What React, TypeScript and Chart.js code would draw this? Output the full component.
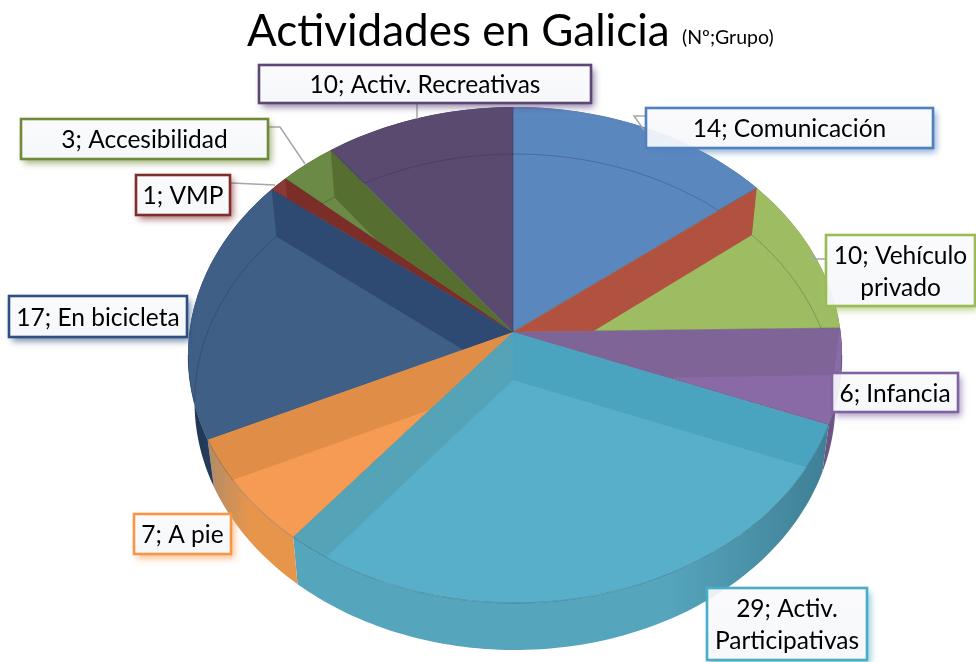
import React, { useEffect, useRef } from "react";
import { Chart, registerables } from "chart.js";

Chart.register(...registerables);

// ---- data ----
const categories = [
  "Comunicación",
  "Sin etiqueta",
  "Vehículo privado",
  "Infancia",
  "Activ. Participativas",
  "A pie",
  "En bicicleta",
  "VMP",
  "Accesibilidad",
  "Activ. Recreativas",
];
const values = [14, 0, 10, 6, 29, 7, 17, 1, 3, 10];
const titleText = "Actividades en Galicia";
const subtitleText = "(Nº;Grupo)";

// ---- style ----
const topColors = ["#5b87bf", "#b0523f", "#9ebd63", "#8a6aa6", "#58afc9", "#f59b53", "#3f5f87", "#8a3a36", "#6a8a45", "#5b4a70"];
const sideColors = ["#4a6f9c", "#8f4233", "#7f9a4f", "#6d5484", "#55a5bc", "#e8954c", "#2a4468", "#6f2e2a", "#55703a", "#483a5a"];
const sideDark = ["#3a5a80", "#703428", "#64793f", "#3c3058", "#3f7f95", "#b08c66", "#1f3350", "#5a2522", "#44592e", "#382d47"];
const borderColors = ["#4f81bd", "#c0504d", "#9bbb59", "#8064a2", "#4bacc6", "#f79646", "#2f4f7f", "#7f2f2b", "#6f8a3a", "#5c4776"];

const FONT = "Lato, 'Open Sans', sans-serif";
const APEX = { x: 513, y: 332 };
const SQUASH = 0.755;
const RADIUS = 420;
const TOP = { x: 515, y: 355, rx: 327, ry: 248 };
const DEPTH = 47;
const LOWER_SHRINK = 0.98;

// slice index, which edge, colour, clip slice range
const walls = [
  { i: 1, edge: "start", color: "#b0523f", from: 0, to: 2 },
  { i: 8, edge: "end", color: "#566f30", from: 8, to: 8 },
  { i: 7, edge: "end", color: "#7b2d28", from: 7, to: 7 },
  { i: 6, edge: "end", color: "#2f4a72", from: 6, to: 6 },
  { i: 3, edge: "start", color: "#7e6497", from: 3, to: 3 },
  { i: 5, edge: "end", color: "#e08d47", from: 5, to: 5 },
  { i: 4, edge: "start", color: "#4aa3bf", from: 4, to: 4 },
  { i: 4, edge: "end", color: "#55a3b6", from: 4, to: 4 },
];

const boxes: Record<number, { x: number; y: number; w: number; h: number; lines?: string[] }> = {
  0: { x: 646, y: 108, w: 287, h: 40 },
  2: { x: 826, y: 235, w: 149, h: 71, lines: ["Vehículo", "privado"] },
  3: { x: 832, y: 373, w: 126, h: 39 },
  4: { x: 707, y: 588, w: 160, h: 72, lines: ["Activ.", "Participativas"] },
  5: { x: 134, y: 514, w: 97, h: 40 },
  6: { x: 9, y: 296, w: 178, h: 41 },
  7: { x: 136, y: 175, w: 94, h: 40 },
  8: { x: 21, y: 119, w: 247, h: 40 },
  9: { x: 259, y: 65, w: 332, h: 38 },
};

const leaders: number[][][] = [
  [[417, 103], [417, 119]],
  [[269, 127], [280, 127], [305, 164]],
  [[231, 183], [275, 185]],
  [[645, 116], [634, 116], [644, 130]],
  [[825, 259], [815, 259], [810, 253]],
];

// ---- geometry helpers ----
function rim(angle: number) {
  const dx = Math.cos(angle);
  const dy = SQUASH * Math.sin(angle);
  const ox = APEX.x - TOP.x;
  const oy = APEX.y - TOP.y;
  const a = (dx * dx) / (TOP.rx * TOP.rx) + (dy * dy) / (TOP.ry * TOP.ry);
  const b = 2 * ((ox * dx) / (TOP.rx * TOP.rx) + (oy * dy) / (TOP.ry * TOP.ry));
  const c = (ox * ox) / (TOP.rx * TOP.rx) + (oy * oy) / (TOP.ry * TOP.ry) - 1;
  const t = (-b + Math.sqrt(b * b - 4 * a * c)) / (2 * a);
  return { x: APEX.x + dx * t, y: APEX.y + dy * t };
}

function lower(p: { x: number; y: number }) {
  return { x: TOP.x + (p.x - TOP.x) * LOWER_SHRINK, y: p.y + DEPTH };
}

function sector(ctx: CanvasRenderingContext2D, a0: number, a1: number) {
  ctx.save();
  ctx.translate(APEX.x, APEX.y);
  ctx.scale(1, SQUASH);
  ctx.beginPath();
  ctx.moveTo(0, 0);
  ctx.arc(0, 0, RADIUS, a0, a1);
  ctx.closePath();
  ctx.restore();
}

function arcs(chart: any) {
  return chart.getDatasetMeta(0).data.map((e: any) => e.getProps(["startAngle", "endAngle"], true));
}

const pie3d = {
  id: "pie3d",
  beforeDatasetsDraw(chart: any) {
    const ctx: CanvasRenderingContext2D = chart.ctx;
    const el = arcs(chart);
    // outer side of the drum, one band for each slice
    el.forEach((a: any, i: number) => {
      const span = a.endAngle - a.startAngle;
      if (span <= 0) return;
      const steps = Math.ceil(span / 0.02);
      const up = [];
      for (let k = 0; k <= steps; k++) up.push(rim(a.startAngle + (span * k) / steps));
      const xs = up.map((p) => p.x);
      const g = ctx.createLinearGradient(Math.min(...xs), 0, Math.max(...xs), 0);
      const rightSide = (xs[0] + xs[steps]) / 2 > TOP.x;
      g.addColorStop(0, rightSide || i === 4 ? sideColors[i] : sideDark[i]);
      g.addColorStop(i === 4 ? 0.7 : 0.5, sideColors[i]);
      g.addColorStop(1, rightSide || i === 4 ? sideDark[i] : sideColors[i]);
      ctx.beginPath();
      up.forEach((p, k) => (k ? ctx.lineTo(p.x, p.y) : ctx.moveTo(p.x, p.y)));
      for (let k = steps; k >= 0; k--) {
        const q = lower(up[k]);
        ctx.lineTo(q.x, q.y);
      }
      ctx.closePath();
      ctx.fillStyle = g;
      ctx.fill();
    });
    // the top face: the library's arcs, flattened and clipped to the ellipse
    ctx.save();
    ctx.beginPath();
    ctx.ellipse(TOP.x, TOP.y, TOP.rx, TOP.ry, 0, 0, Math.PI * 2);
    ctx.clip();
    ctx.translate(APEX.x, APEX.y);
    ctx.scale(1, SQUASH);
    ctx.translate(-chart.getDatasetMeta(0).data[0].x, -chart.getDatasetMeta(0).data[0].y);
  },
  afterDatasetsDraw(chart: any) {
    const ctx: CanvasRenderingContext2D = chart.ctx;
    ctx.restore();
    const el = arcs(chart);
    // far rim of the lower face, seen through the top
    ctx.save();
    ctx.beginPath();
    ctx.ellipse(TOP.x, TOP.y, TOP.rx, TOP.ry, 0, 0, Math.PI * 2);
    ctx.clip();
    ctx.beginPath();
    ctx.ellipse(TOP.x, TOP.y + DEPTH, TOP.rx * LOWER_SHRINK, TOP.ry, 0, Math.PI, Math.PI * 2);
    ctx.strokeStyle = "rgba(30,30,50,0.25)";
    ctx.lineWidth = 1;
    ctx.stroke();
    // inner walls
    walls.forEach((w) => {
      const ang = w.edge === "start" ? el[w.i].startAngle : el[w.i].endAngle;
      const p = rim(ang);
      const low = lower(p);
      ctx.save();
      sector(ctx, el[w.from].startAngle, el[w.to].endAngle);
      ctx.clip();
      ctx.beginPath();
      ctx.moveTo(APEX.x, APEX.y);
      ctx.lineTo(p.x, p.y);
      ctx.lineTo(low.x, low.y);
      ctx.lineTo(APEX.x, APEX.y + DEPTH + 1);
      ctx.closePath();
      ctx.fillStyle = w.color;
      ctx.fill();
      ctx.restore();
    });
    ctx.restore();
    // rim of the top face
    ctx.save();
    ctx.beginPath();
    ctx.ellipse(TOP.x, TOP.y, TOP.rx, TOP.ry, 0, 0, Math.PI);
    ctx.strokeStyle = "rgba(20,60,80,0.35)";
    ctx.lineWidth = 1;
    ctx.stroke();
    ctx.restore();
  },
  afterDraw(chart: any) {
    const ctx: CanvasRenderingContext2D = chart.ctx;
    // title
    ctx.save();
    ctx.fillStyle = "#000";
    ctx.textBaseline = "alphabetic";
    ctx.textAlign = "left";
    ctx.font = `44px ${FONT}`;
    ctx.fillText(titleText, 247, 46);
    ctx.font = `19.5px ${FONT}`;
    ctx.fillText(subtitleText, 682, 44);
    // leader lines
    ctx.strokeStyle = "#a6a6a6";
    ctx.lineWidth = 1.5;
    leaders.forEach((pts) => {
      ctx.beginPath();
      pts.forEach(([x, y], k) => (k ? ctx.lineTo(x, y) : ctx.moveTo(x, y)));
      ctx.stroke();
    });
    // data labels
    values.forEach((v, i) => {
      const b = boxes[i];
      if (!b) return;
      // coloured shadow, outside the box only
      ctx.save();
      ctx.beginPath();
      ctx.rect(0, 0, chart.width, chart.height);
      ctx.rect(b.x, b.y, b.w, b.h);
      ctx.clip("evenodd");
      ctx.shadowColor = borderColors[i] + "b0";
      ctx.shadowBlur = 7;
      ctx.shadowOffsetX = 3;
      ctx.shadowOffsetY = 4;
      ctx.fillStyle = "#fff";
      ctx.fillRect(b.x, b.y, b.w, b.h);
      ctx.restore();
      const g = ctx.createLinearGradient(0, b.y, 0, b.y + b.h);
      g.addColorStop(0, "rgba(250,250,252,0.9)");
      g.addColorStop(1, "rgba(245,247,250,0.94)");
      ctx.fillStyle = g;
      ctx.fillRect(b.x, b.y, b.w, b.h);
      ctx.strokeStyle = borderColors[i];
      ctx.lineWidth = 2.6;
      ctx.strokeRect(b.x, b.y, b.w, b.h);
      ctx.fillStyle = "#000";
      ctx.textAlign = "center";
      ctx.textBaseline = "middle";
      ctx.font = `24.5px ${FONT}`;
      const lines = b.lines ? [`${v}; ${b.lines[0]}`, b.lines[1]] : [`${v}; ${categories[i]}`];
      const lh = 32;
      lines.forEach((t, k) => {
        ctx.fillText(t, b.x + b.w / 2, b.y + b.h / 2 + 1.5 + (k - (lines.length - 1) / 2) * lh);
      });
    });
    ctx.restore();
  },
};

export default function App() {
  const ref = useRef<HTMLCanvasElement | null>(null);
  useEffect(() => {
    if (!ref.current) return;
    const chart = new Chart(ref.current, {
      type: "pie",
      data: {
        labels: categories,
        datasets: [
          {
            data: values,
            backgroundColor: topColors,
            borderWidth: 0.6,
            borderColor: "rgba(30,30,40,0.35)",
            clip: false,
          } as any,
        ],
      },
      options: {
        responsive: false,
        animation: false,
        events: [],
        radius: RADIUS,
        layout: { padding: { left: 50, top: 2 } },
        plugins: { legend: { display: false }, tooltip: { enabled: false }, title: { display: false } },
      } as any,
      plugins: [pie3d],
    });
    return () => chart.destroy();
  }, []);
  return (
    <div style={{ position: "fixed", left: 0, top: 0, width: 976, height: 662, background: "#fff" }}>
      <canvas ref={ref} width={976} height={662} style={{ display: "block" }} />
    </div>
  );
}
